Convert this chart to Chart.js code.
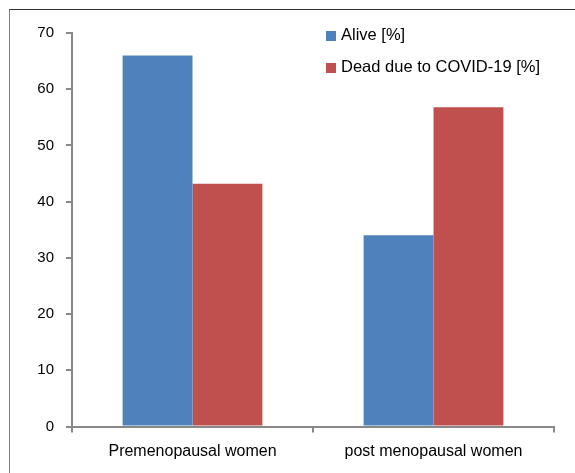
<!DOCTYPE html>
<html>
<head>
<meta charset="utf-8">
<script src="https://cdn.jsdelivr.net/npm/chart.js@4"></script>
<style>
  body { margin: 0; background: #fff; }
  #wrap { position: relative; width: 575px; height: 473px; overflow: hidden; }
  #frame { position: absolute; left: 9px; top: 9px; width: 700px; height: 700px;
           border-top: 1px solid #333; border-left: 1px solid #808080; }
  #chart { position: absolute; left: 0; top: 0; }
</style>
</head>
<body>
<div id="wrap">
  <div id="frame"></div>
  <canvas id="chart" width="575" height="473"></canvas>
</div>
<script>
// values
var groups = ['Premenopausal women', 'post menopausal women'];
var alive = [66.0, 34.0];
var dead = [43.2, 56.8];
var seriesNames = ['Alive [%]', 'Dead due to COVID-19 [%]'];
var seriesColors = ['#4F81BD', '#C0504D'];

var fontFam = '"Liberation Sans", Arial, sans-serif';

// legend sits inside the plot, top right
var boxLegend = {
  id: 'boxLegend',
  afterDraw: function (chart) {
    var ctx = chart.ctx;
    ctx.save();
    ctx.font = '16.5px ' + fontFam;
    ctx.textBaseline = 'middle';
    chart.data.datasets.forEach(function (ds, i) {
      var y = 35 + i * 32;
      ctx.fillStyle = ds.backgroundColor;
      ctx.fillRect(326, y - 4, 10, 10);
      ctx.fillStyle = '#000';
      ctx.fillText(ds.label, 341, y);
    });
    ctx.restore();
  }
};

var chart = new Chart(document.getElementById('chart').getContext('2d'), {
  type: 'bar',
  data: {
    labels: groups,
    datasets: [
      { label: seriesNames[0], data: alive, backgroundColor: seriesColors[0] },
      { label: seriesNames[1], data: dead, backgroundColor: seriesColors[1] }
    ]
  },
  options: {
    responsive: false,
    animation: false,
    layout: { padding: { left: 0, top: 33, right: 21, bottom: 0 } },
    datasets: { bar: { categoryPercentage: 0.58, barPercentage: 1.0 } },
    plugins: { legend: { display: false }, tooltip: { enabled: false } },
    scales: {
      x: {
        grid: { drawOnChartArea: false, drawTicks: true, tickLength: 6, color: '#888', lineWidth: 2, offset: true },
        border: { color: '#888', width: 2 },
        ticks: { color: '#000', font: { family: fontFam, size: 16 }, padding: 9, maxRotation: 0 },
        afterFit: function (s) { s.height = 46.5; }
      },
      y: {
        min: 0,
        max: 70,
        grid: { drawOnChartArea: false, drawTicks: true, tickLength: 6, color: '#888', lineWidth: 2 },
        border: { color: '#888', width: 2 },
        ticks: { stepSize: 10, color: '#000', font: { family: fontFam, size: 15 }, padding: 12 },
        afterFit: function (s) { s.width = 72; }
      }
    }
  },
  plugins: [boxLegend]
});
</script>
</body>
</html>
